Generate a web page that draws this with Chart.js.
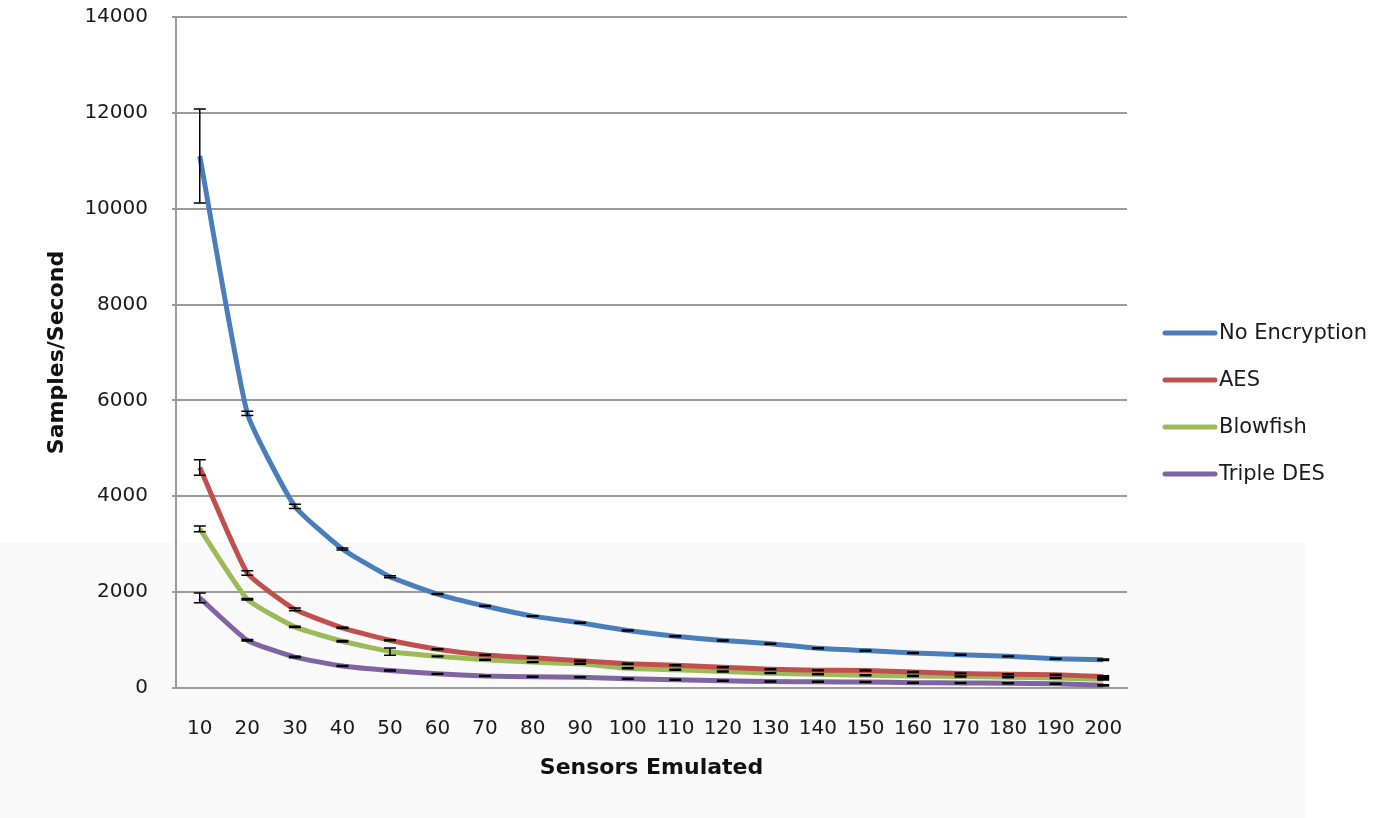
<!DOCTYPE html>
<html>
<head>
<meta charset="utf-8">
<title>Samples/Second vs Sensors Emulated</title>
<script src="https://cdn.jsdelivr.net/npm/chart.js@4.4.1/dist/chart.umd.min.js"></script>
<style>
  html, body { margin: 0; padding: 0; background: #fff; }
  #wrap { position: relative; width: 1381px; height: 818px; overflow: hidden; }
  #band { position: absolute; left: 0; top: 543px; width: 1305px; height: 275px; background: #f9f9f9; }
  #chart { position: absolute; left: 0; top: 0; width: 1381px; height: 818px; }
</style>
</head>
<body>
<div id="wrap">
  <div id="band"></div>
  <canvas id="chart" width="1381" height="818"></canvas>
</div>
<script>
'use strict';

/* ---------- データ ---------- */
const SENSORS = ['10', '20', '30', '40', '50', '60', '70', '80', '90', '100',
  '110', '120', '130', '140', '150', '160', '170', '180', '190', '200'];

const NO_ENCRYPTION = [11100, 5730, 3790, 2900, 2320, 1960, 1710, 1500, 1360, 1200,
  1080, 990, 925, 830, 780, 730, 695, 660, 610, 590];
const AES = [4600, 2400, 1640, 1255, 995, 810, 690, 630, 570, 505,
  475, 435, 390, 370, 365, 335, 305, 285, 275, 240];
const BLOWFISH = [3320, 1850, 1275, 975, 760, 660, 590, 540, 505, 410,
  380, 345, 310, 285, 265, 250, 240, 225, 210, 180];
const TRIPLE_DES = [1880, 995, 645, 460, 365, 295, 250, 235, 225, 195,
  170, 150, 135, 130, 125, 110, 105, 100, 90, 55];

/* 誤差（±） */
const ERR_NO_ENCRYPTION = [980, 45, 45, 20, 20, 10, 10, 10, 10, 10, 10, 10, 10, 10, 10, 10, 10, 10, 10, 15];
const ERR_AES = [160, 45, 30, 15, 10, 10, 10, 10, 10, 10, 10, 10, 10, 10, 10, 10, 10, 10, 10, 15];
const ERR_BLOWFISH = [60, 15, 15, 15, 75, 10, 10, 10, 10, 10, 10, 10, 10, 10, 10, 10, 10, 10, 10, 15];
const ERR_TRIPLE_DES = [100, 15, 15, 10, 10, 10, 10, 10, 10, 10, 10, 10, 10, 10, 10, 10, 10, 10, 10, 15];

const Y_MAX = 14000;
const Y_STEP = 2000;

const COLOR_BLUE = '#4a7ebb';
const COLOR_RED = '#c0504d';
const COLOR_GREEN = '#9bbb59';
const COLOR_PURPLE = '#8064a2';
const GRID = '#9a9a9a';

/* エラーバー（点の上に黒で描く） */
const errorBars = {
  id: 'errorBars',
  afterDatasetsDraw(chart) {
    const { ctx } = chart;
    const ys = chart.scales.y;
    ctx.save();
    ctx.strokeStyle = '#000';
    ctx.lineWidth = 1.5;
    chart.data.datasets.forEach((ds, i) => {
      const meta = chart.getDatasetMeta(i);
      meta.data.forEach((pt, j) => {
        const e = ds.errors[j];
        const top = ys.getPixelForValue(ds.data[j] + e);
        const bot = ys.getPixelForValue(ds.data[j] - e);
        ctx.beginPath();
        ctx.moveTo(pt.x, top); ctx.lineTo(pt.x, bot);
        ctx.moveTo(pt.x - 6, top); ctx.lineTo(pt.x + 6, top);
        ctx.moveTo(pt.x - 6, bot); ctx.lineTo(pt.x + 6, bot);
        ctx.stroke();
      });
    });
    ctx.restore();
  },
};

/* 右側の凡例（線サンプル＋ラベル） */
const sideLegend = {
  id: 'sideLegend',
  afterDraw(chart) {
    const { ctx } = chart;
    ctx.save();
    ctx.font = '21px "DejaVu Sans", sans-serif';
    ctx.textBaseline = 'middle';
    ctx.textAlign = 'left';
    chart.data.datasets.forEach((ds, i) => {
      const y = 333 + i * 47;
      ctx.strokeStyle = ds.borderColor;
      ctx.lineWidth = 5;
      ctx.lineCap = 'round';
      ctx.beginPath();
      ctx.moveTo(1165, y);
      ctx.lineTo(1215, y);
      ctx.stroke();
      ctx.fillStyle = '#1a1a1a';
      ctx.fillText(ds.label, 1219, y + 1);
    });
    ctx.restore();
  },
};

function series(label, data, errors, color) {
  return {
    label,
    data,
    errors,
    borderColor: color,
    backgroundColor: color,
    borderWidth: 5,
    pointRadius: 0,
    tension: 0.15,
    fill: false,
  };
}

new Chart(document.getElementById('chart'), {
  type: 'line',
  data: {
    labels: SENSORS,
    datasets: [
      series('No Encryption', NO_ENCRYPTION, ERR_NO_ENCRYPTION, COLOR_BLUE),
      series('AES', AES, ERR_AES, COLOR_RED),
      series('Blowfish', BLOWFISH, ERR_BLOWFISH, COLOR_GREEN),
      series('Triple DES', TRIPLE_DES, ERR_TRIPLE_DES, COLOR_PURPLE),
    ],
  },
  options: {
    responsive: false,
    animation: false,
    layout: { padding: { left: 0, top: 17, right: 254, bottom: 0 } },
    plugins: {
      legend: { display: false },
      tooltip: { enabled: false },
    },
    scales: {
      x: {
        offset: true,
        grid: { display: false },
        border: { display: true, color: GRID, width: 2 },
        ticks: {
          color: '#1a1a1a',
          font: { family: '"DejaVu Sans", sans-serif', size: 20 },
          padding: 21,
          maxRotation: 0,
          autoSkip: false,
        },
        title: {
          display: true,
          text: 'Sensors Emulated',
          color: '#111',
          font: { family: '"DejaVu Sans", sans-serif', size: 22, weight: 'bold' },
          padding: { top: 0, bottom: 37 },
        },
        afterFit: (s) => { s.height = 130; s.paddingLeft = 0; s.paddingRight = 0; },
      },
      y: {
        min: 0,
        max: Y_MAX,
        grid: { color: GRID, lineWidth: 2, tickLength: 4 },
        border: { display: true, color: GRID, width: 2 },
        ticks: {
          stepSize: Y_STEP,
          color: '#1a1a1a',
          font: { family: '"DejaVu Sans", sans-serif', size: 20 },
          padding: 24,
          callback: (v) => String(v),
        },
        title: {
          display: true,
          text: 'Samples/Second',
          color: '#111',
          font: { family: '"DejaVu Sans", sans-serif', size: 22, weight: 'bold' },
          padding: { top: 44, bottom: 0 },
        },
        afterFit: (s) => { s.width = 176; s.paddingTop = 0; s.paddingBottom = 0; },
      },
    },
  },
  plugins: [errorBars, sideLegend],
});
</script>
</body>
</html>
